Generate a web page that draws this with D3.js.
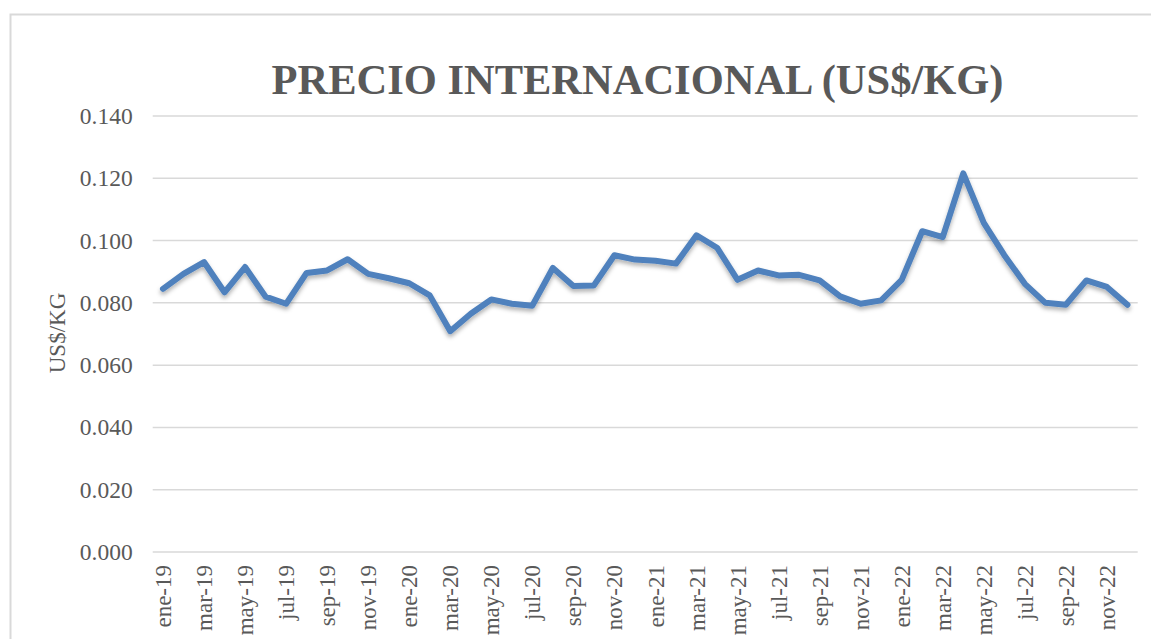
<html>
<head>
<script src="https://d3js.org/d3.v7.min.js"></script>
<style>
body { margin: 0; background: white; }
svg text { font-family: 'Liberation Serif', 'Times New Roman', serif; fill: #595959; }
</style>
</head>
<body>
<svg width="1151" height="639"></svg>
<script>
const meses = ["ene", "feb", "mar", "abr", "may", "jun", "jul", "ago", "sep", "oct", "nov", "dic"];
const anios = ["19", "20", "21", "22"];
const periodos = anios.flatMap(a => meses.map(m => m + "-" + a));

const precios = [
  0.0845, 0.0893, 0.0931, 0.0834, 0.0915, 0.0820, 0.0797, 0.0896, 0.0904, 0.0940, 0.0893, 0.0879,
  0.0863, 0.0824, 0.0709, 0.0765, 0.0811, 0.0797, 0.0791, 0.0912, 0.0854, 0.0856, 0.0953, 0.0939,
  0.0935, 0.0926, 0.1017, 0.0977, 0.0874, 0.0904, 0.0888, 0.0890, 0.0872, 0.0821, 0.0797, 0.0808,
  0.0874, 0.1030, 0.1011, 0.1216, 0.1057, 0.0953, 0.0861, 0.0800, 0.0794, 0.0872, 0.0851, 0.0794
];
const ticksY = [0, 0.02, 0.04, 0.06, 0.08, 0.10, 0.12, 0.14];

const svg = d3.select("svg");

// chart border
svg.append("rect")
  .attr("x", 10.5).attr("y", 14.5)
  .attr("width", 1300).attr("height", 800)
  .attr("fill", "white")
  .attr("stroke", "#d9d9d9")
  .attr("stroke-width", 2);

const x = d3.scaleBand().domain(periodos).range([152.7, 1137.7]);
const y = d3.scaleLinear().domain([0, 0.14]).range([552, 116]);

// grid
svg.append("g")
  .selectAll("line")
  .data(ticksY)
  .enter()
  .append("line")
  .attr("x1", 152.7).attr("x2", 1137.7)
  .attr("y1", d => y(d)).attr("y2", d => y(d))
  .attr("stroke", "#d9d9d9")
  .attr("stroke-width", 1.5);

// y axis labels
const yAxis = svg.append("g")
  .attr("transform", "translate(152.7,0)")
  .call(d3.axisLeft(y).tickValues(ticksY).tickFormat(d3.format(".3f")).tickSize(0).tickPadding(20));
yAxis.select(".domain").remove();
yAxis.selectAll("text")
  .style("font-size", "23.5px")
  .style("font-family", "'Liberation Serif', serif")
  .attr("fill", "#595959");

// x axis labels
const xAxis = svg.append("g")
  .attr("transform", "translate(0,552)")
  .call(d3.axisBottom(x).tickValues(periodos.filter((d, i) => i % 2 == 0)).tickSize(0));
xAxis.select(".domain").remove();
xAxis.selectAll("text")
  .style("font-size", "23px")
  .style("font-family", "'Liberation Serif', serif")
  .attr("fill", "#595959")
  .attr("text-anchor", "end")
  .attr("dy", "0.35em")
  .attr("transform", "translate(0,13) rotate(-90)")
  .attr("x", 0).attr("y", 0);

// shadow
const defs = svg.append("defs");
const f = defs.append("filter").attr("id", "sombra").attr("x", "-5%").attr("y", "-20%").attr("width", "110%").attr("height", "140%");
f.append("feDropShadow").attr("dx", 0).attr("dy", 3).attr("stdDeviation", 2).attr("flood-color", "#000").attr("flood-opacity", 0.3);

const line = d3.line()
  .x((d, i) => x(periodos[i]) + x.bandwidth() / 2)
  .y(d => y(d));

svg.append("path")
  .datum(precios)
  .attr("d", line)
  .attr("fill", "none")
  .attr("stroke", "#4f81bd")
  .attr("stroke-width", 6)
  .attr("stroke-linejoin", "round")
  .attr("stroke-linecap", "round")
  .attr("filter", "url(#sombra)");

// title
svg.append("text")
  .attr("x", 637.5)
  .attr("y", 94)
  .attr("text-anchor", "middle")
  .style("font-size", "42.5px")
  .style("font-weight", "bold")
  .text("PRECIO INTERNACIONAL (US$/KG)");

// y title
svg.append("text")
  .attr("transform", "translate(65,333) rotate(-90)")
  .attr("text-anchor", "middle")
  .style("font-size", "23px")
  .text("US$/KG");
</script>
</body>
</html>
